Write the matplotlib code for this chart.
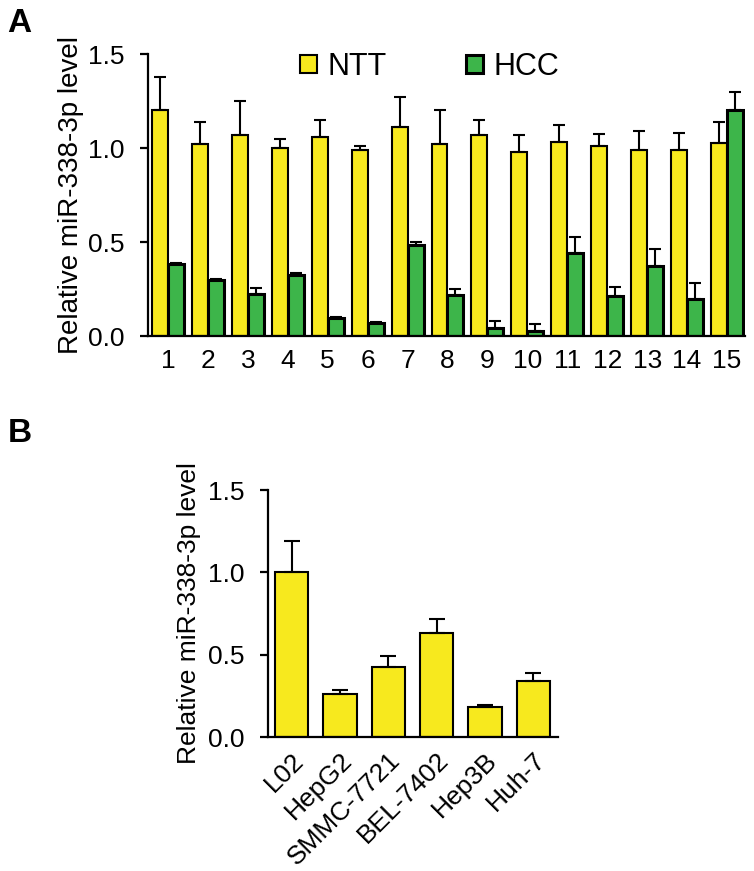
# relative miR-338-3p level, tissue pairs (A) and cell lines (B)
import numpy as np
import matplotlib.pyplot as plt
from matplotlib.patches import Patch

plt.rcParams['font.family'] = ['Liberation Sans', 'DejaVu Sans']

# panel A data
pairs = [str(i) for i in range(1, 16)]
ntt = [1.20, 1.02, 1.07, 1.00, 1.06, 0.99, 1.11, 1.02, 1.07, 0.98, 1.03, 1.01, 0.99, 0.99, 1.025]
ntt_err = [0.18, 0.12, 0.18, 0.05, 0.09, 0.02, 0.16, 0.18, 0.08, 0.09, 0.09, 0.065, 0.10, 0.09, 0.115]
hcc = [0.384, 0.30, 0.223, 0.327, 0.095, 0.071, 0.486, 0.22, 0.04, 0.025, 0.44, 0.213, 0.375, 0.195, 1.20]
hcc_err = [0.006, 0.005, 0.03, 0.01, 0.004, 0.004, 0.014, 0.028, 0.04, 0.037, 0.087, 0.05, 0.09, 0.085, 0.10]

# panel B data
cells = ['L02', 'HepG2', 'SMMC-7721', 'BEL-7402', 'Hep3B', 'Huh-7']
cell_val = [1.00, 0.264, 0.424, 0.63, 0.18, 0.34]
cell_err = [0.19, 0.02, 0.065, 0.085, 0.012, 0.05]

yellow = '#F7E91E'
green = '#3DB54A'

W, H = 754, 871
fig = plt.figure(figsize=(W / 100, H / 100), dpi=100)

def px_axes(left, right, top, bottom):
    return fig.add_axes([left / W, 1 - bottom / H, (right - left) / W, (bottom - top) / H])

def style(ax, tick_size):
    for s in ['top', 'right']:
        ax.spines[s].set_visible(False)
    ax.spines['left'].set_linewidth(1.6)
    ax.spines['bottom'].set_linewidth(1.6)
    ax.set_ylim(0, 1.5)
    ax.set_yticks([0, 0.5, 1.0, 1.5])
    ax.set_yticklabels(['0.0', '0.5', '1.0', '1.5'])
    ax.tick_params(axis='y', direction='out', length=6, width=1.6, pad=11, labelsize=tick_size)
    ax.tick_params(axis='x', length=0, labelsize=tick_size)

# ---- panel A
axA = px_axes(148, 745, 54, 336)
x = np.arange(len(pairs))
w = 0.4
zeros = np.zeros(len(pairs))
axA.bar(x - w / 2, ntt, w, color=yellow, edgecolor='black', linewidth=1.5,
        yerr=[zeros, ntt_err], capsize=4.5, error_kw=dict(elinewidth=1.5, capthick=1.5, ecolor='black'))
axA.bar(x + w / 2, hcc, w, color=green, edgecolor='black', linewidth=2.2,
        yerr=[zeros, hcc_err], capsize=4.5, error_kw=dict(elinewidth=1.5, capthick=1.5, ecolor='black'))
axA.set_xlim(-0.5, 14.45)
axA.set_xticks(x)
axA.set_xticklabels(pairs)
axA.tick_params(axis='x', pad=9)
style(axA, 19)
axA.set_ylabel('Relative miR-338-3p level', fontsize=20, labelpad=3)

handles = [Patch(facecolor=yellow, edgecolor='black', linewidth=1.5, label='NTT'),
           Patch(facecolor=green, edgecolor='black', linewidth=2.2, label='HCC')]
axA.legend(handles=handles, ncol=2, frameon=False, fontsize=22,
           handlelength=0.55, handleheight=0.55, handletextpad=0.35, columnspacing=2.6,
           borderpad=0, borderaxespad=0,
           loc='upper left', bbox_to_anchor=(300 / W, 1 - 52 / H), bbox_transform=fig.transFigure)

fig.text(7 / W, 1 - 8 / H, 'A', fontsize=24, fontweight='bold', va='top', ha='left')

# ---- panel B
axB = px_axes(268, 558, 490, 737)
xb = np.arange(len(cells))
axB.bar(xb, cell_val, 0.69, color=yellow, edgecolor='black', linewidth=1.5,
        yerr=[np.zeros(len(cells)), cell_err], capsize=5.5,
        error_kw=dict(elinewidth=1.5, capthick=1.5, ecolor='black'))
axB.set_xlim(-0.49, 5.51)
axB.set_xticks(xb)
axB.set_xticklabels(cells, rotation=45, ha='right', rotation_mode='anchor')
style(axB, 19)
axB.tick_params(axis='x', pad=8)
axB.set_ylabel('Relative miR-338-3p level', fontsize=19, labelpad=5)

fig.text(8 / W, 1 - 418 / H, 'B', fontsize=24, fontweight='bold', va='top', ha='left')

fig.savefig('out.png', dpi=100)
